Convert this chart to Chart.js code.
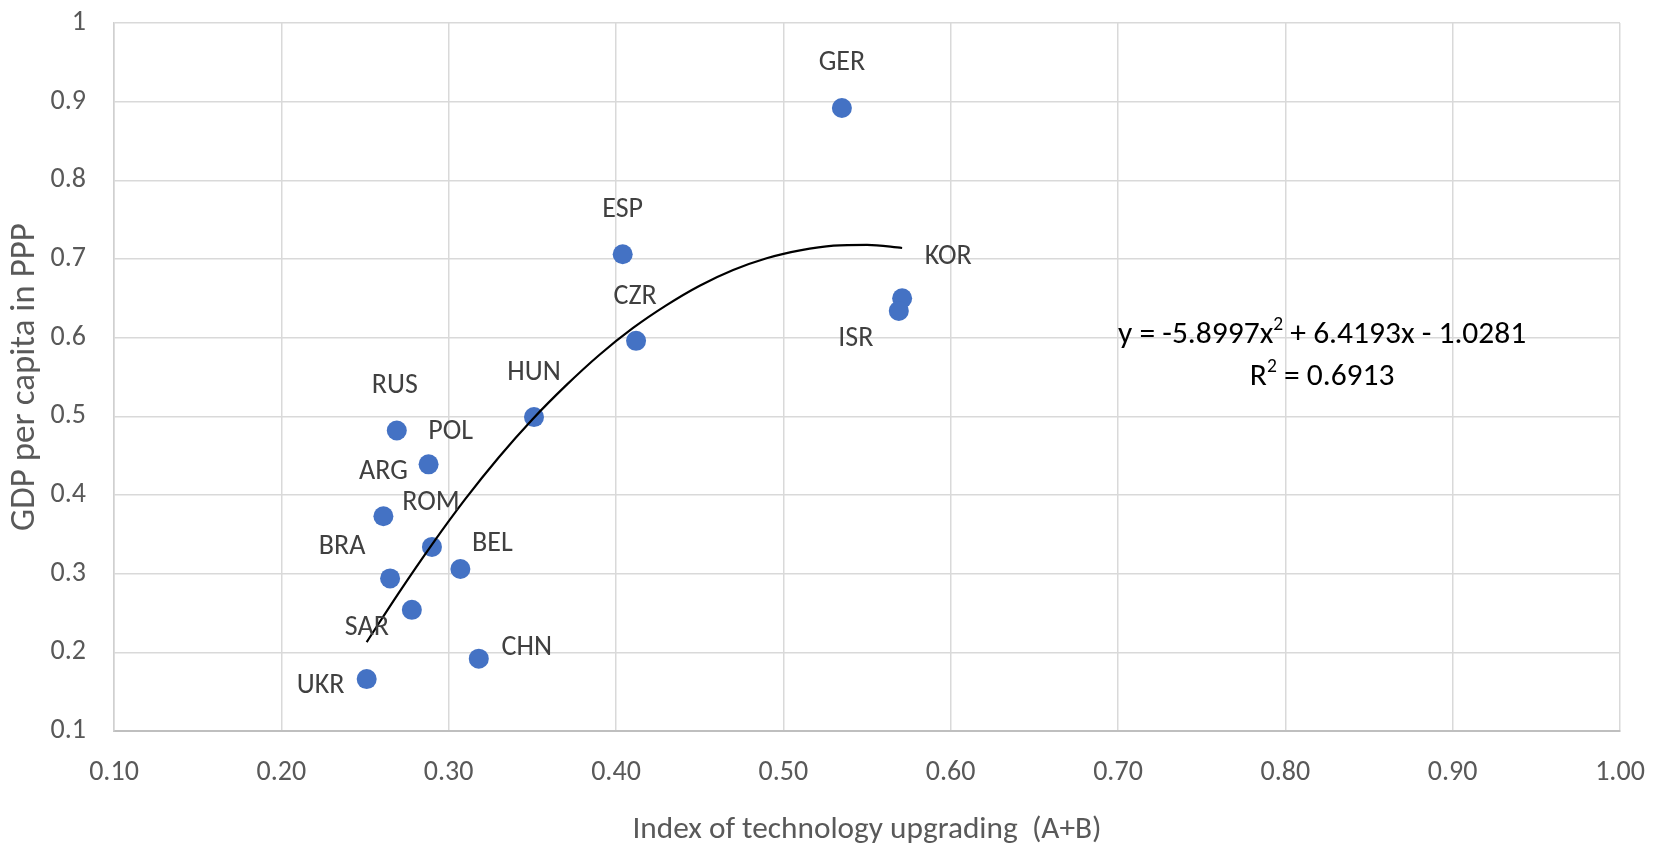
<!DOCTYPE html>
<html>
<head>
<meta charset="utf-8">
<script src="https://cdn.jsdelivr.net/npm/chart.js@4.4.1/dist/chart.umd.min.js"></script>
<style>
  body { margin: 0; background: #fff; overflow: hidden; }
  canvas { display: block; }
</style>
</head>
<body>
<canvas id="chart" width="1659" height="845"></canvas>
<script>
const countries = ["GER", "ESP", "CZR", "KOR", "ISR", "HUN", "RUS", "POL", "ARG", "ROM", "BRA", "BEL", "SAR", "CHN", "UKR"];
const techIndex = [0.535, 0.404, 0.412, 0.571, 0.569, 0.351, 0.269, 0.288, 0.261, 0.290, 0.265, 0.307, 0.278, 0.318, 0.251];
const gdpPerCapita = [0.892, 0.706, 0.596, 0.650, 0.634, 0.499, 0.482, 0.439, 0.373, 0.334, 0.294, 0.306, 0.254, 0.192, 0.166];

// trend line
const trendX = [0.251, 0.27, 0.29, 0.31, 0.33, 0.35, 0.37, 0.39, 0.41, 0.43, 0.45, 0.47, 0.49, 0.51, 0.53, 0.55, 0.571];
const trendY = [0.213, 0.275, 0.337, 0.395, 0.448, 0.496, 0.539, 0.578, 0.612, 0.641, 0.666, 0.686, 0.701, 0.711, 0.717, 0.718, 0.714];

const xTickLabels = ["0.10", "0.20", "0.30", "0.40", "0.50", "0.60", "0.70", "0.80", "0.90", "1.00"];
const yTickLabels = ["0.1", "0.2", "0.3", "0.4", "0.5", "0.6", "0.7", "0.8", "0.9", "1"];

const equationLine = [["y = -5.8997x", false], ["2", true], [" + 6.4193x - 1.0281", false]];
const r2Line = [["R", false], ["2", true], [" = 0.6913", false]];

const FONT = "Carlito, 'Liberation Sans Narrow', Roboto, sans-serif";
Chart.defaults.font.family = FONT;

const labelOffsets = {
  GER: [0, -45], ESP: [0, -44], CZR: [-1, -44], KOR: [46, -41], ISR: [-43, 28],
  HUN: [0, -44], RUS: [-2, -44], POL: [22, -32], ARG: [0, -44], ROM: [-1, -44],
  BRA: [-48, -31], BEL: [32, -25], SAR: [-45, 18], CHN: [48, -11], UKR: [-46, 7]
};

function drawRich(ctx, parts, cx, cy, size) {
  const widths = parts.map(([t, sup]) => {
    ctx.font = (sup ? size * 0.62 : size) + "px " + FONT;
    return ctx.measureText(t).width;
  });
  let x = cx - widths.reduce((a, b) => a + b, 0) / 2;
  parts.forEach(([t, sup], i) => {
    ctx.font = (sup ? size * 0.62 : size) + "px " + FONT;
    ctx.fillText(t, x, sup ? cy - size * 0.32 : cy);
    x += widths[i];
  });
}

const annotations = {
  id: "annotations",
  afterDatasetsDraw(chart) {
    const ctx = chart.ctx;
    const meta = chart.getDatasetMeta(1);
    ctx.save();
    ctx.font = "28px " + FONT;
    ctx.fillStyle = "#404040";
    ctx.textAlign = "center";
    ctx.textBaseline = "middle";
    meta.data.forEach((pt, i) => {
      const [dx, dy] = labelOffsets[countries[i]];
      ctx.fillText(countries[i], pt.x + dx, pt.y + dy);
    });

    const { x, y } = chart.scales;
    ctx.fillStyle = "#000";
    ctx.textAlign = "left";
    const cx = x.getPixelForValue(0.822);
    drawRich(ctx, equationLine, cx, y.getPixelForValue(0.603), 31.5);
    drawRich(ctx, r2Line, cx, y.getPixelForValue(0.5495), 31.5);
    ctx.restore();
  }
};

new Chart(document.getElementById("chart"), {
  type: "scatter",
  data: {
    datasets: [
      {
        label: "Trend",
        data: trendX.map((v, i) => ({ x: v, y: trendY[i] })),
        showLine: true,
        borderColor: "#000",
        borderWidth: 2.2,
        pointRadius: 0,
        cubicInterpolationMode: "monotone",
      },
      {
        label: "Countries",
        data: techIndex.map((v, i) => ({ x: v, y: gdpPerCapita[i] })),
        backgroundColor: "#4472C4",
        borderWidth: 0,
        pointRadius: 10,
      },
    ],
  },
  options: {
    responsive: false,
    animation: false,
    devicePixelRatio: 1,
    layout: { padding: { top: 23, right: 39, left: 0, bottom: 0 } },
    plugins: {
      legend: { display: false },
      tooltip: { enabled: false },
    },
    scales: {
      x: {
        type: "linear",
        min: 0.1,
        max: 1,
        afterFit: (scale) => {
          scale.height = 114;
          scale.paddingLeft = 0;
          scale.paddingRight = 0;
        },
        ticks: {
          stepSize: 0.1,
          padding: 25,
          maxRotation: 0,
          color: "#595959",
          font: { size: 28 },
          callback: (v, i) => xTickLabels[i],
        },
        grid: { color: "#d9d9d9", lineWidth: 1.5, drawTicks: false },
        border: { color: "#bfbfbf", width: 2 },
        title: {
          display: true,
          text: "Index of technology upgrading  (A+B)",
          color: "#595959",
          font: { size: 31.3, lineHeight: 0.8 },
          padding: { top: 0, bottom: 2 },
        },
      },
      y: {
        min: 0.1,
        max: 1,
        afterFit: (scale) => {
          scale.width = 114;
          scale.paddingTop = 0;
          scale.paddingBottom = 0;
        },
        ticks: {
          stepSize: 0.1,
          padding: 28,
          color: "#595959",
          font: { size: 28 },
          callback: (v, i) => yTickLabels[i],
        },
        grid: { color: "#d9d9d9", lineWidth: 1.5, drawTicks: false },
        border: { color: "#d0d0d0", width: 1.5 },
        title: {
          display: true,
          text: "GDP per capita in PPP",
          color: "#595959",
          font: { size: 35, lineHeight: 1.2 },
          padding: { top: 4, bottom: 0 },
        },
      },
    },
  },
  plugins: [annotations],
});
</script>
</body>
</html>
